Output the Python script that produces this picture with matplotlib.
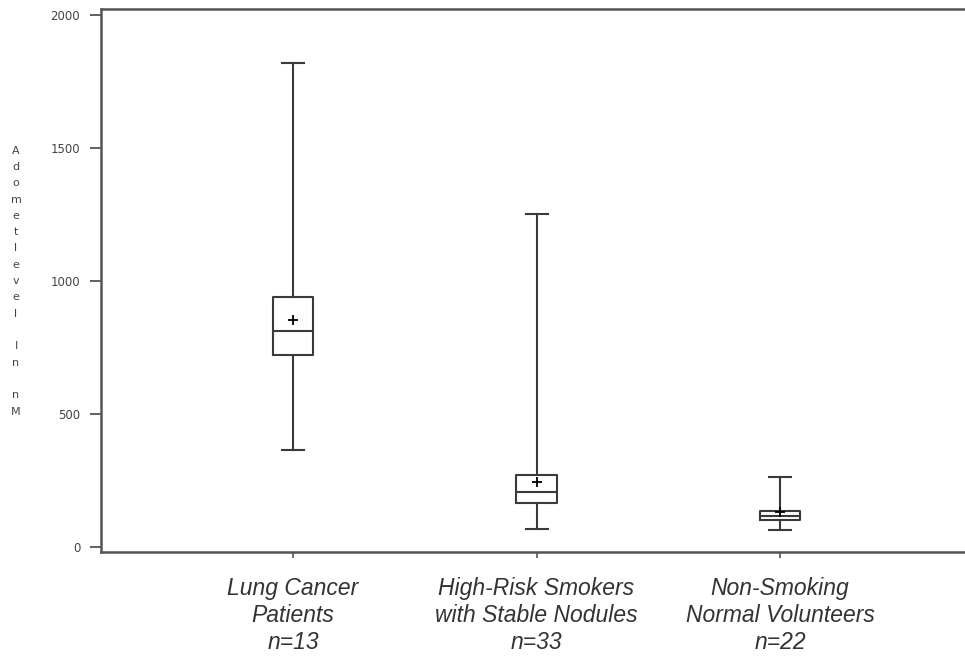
import matplotlib
matplotlib.use("Agg")
from matplotlib import pyplot as plt

groups = ["Lung Cancer\nPatients\nn=13",
          "High-Risk Smokers\nwith Stable Nodules\nn=33",
          "Non-Smoking\nNormal Volunteers\nn=22"]
whislo = [365, 68, 62]
q1 = [722, 165, 101]
med = [812, 207, 117]
q3 = [940, 271, 135]
whishi = [1820, 1252, 263]
means = [853, 244, 130]
yticks = [0, 500, 1000, 1500, 2000]
ylabel = "Adometlevel In nM"

stats = []
for k in range(len(groups)):
    stats.append(dict(label=groups[k], whislo=whislo[k], q1=q1[k], med=med[k],
                      q3=q3[k], whishi=whishi[k], mean=means[k], fliers=[]))

fig = plt.figure(figsize=(9.65, 6.63), dpi=100)
ax = fig.add_axes([0.1047, 0.1674, 0.8953, 0.819])

lc = "#3a3a3a"
ax.bxp(stats, positions=[1, 2, 3], widths=0.165, capwidths=0.09, showmeans=True,
       boxprops=dict(color=lc, linewidth=1.5),
       whiskerprops=dict(color=lc, linewidth=1.5),
       capprops=dict(color=lc, linewidth=1.5),
       medianprops=dict(color=lc, linewidth=1.5),
       meanprops=dict(marker="+", markeredgecolor="black", markersize=7, markeredgewidth=1.3))

ax.set_xlim(0.211, 3.76)
ax.set_ylim(-19, 2023)
ax.spines["right"].set_visible(False)
for s in ["left", "bottom", "top"]:
    ax.spines[s].set_color("#555555")
    ax.spines[s].set_linewidth(1.8)

ax.set_yticks(yticks)
ax.set_yticklabels([str(v) for v in yticks], fontsize=8.5, color="#444444",
                   family="DejaVu Sans")
ax.tick_params(axis="y", length=8, width=1.3, color="#555555", pad=7)
ax.tick_params(axis="x", length=4, width=1.2, color="#555555", pad=14)
ax.set_xticks([1, 2, 3])
ax.set_xticklabels(groups, fontsize=16.5, style="italic", family="Liberation Sans",
                   color="#333333", linespacing=1.22)

fig.text(0.0166, 0.576, "\n".join(ylabel), ha="center", va="center", fontsize=8,
         color="#444444", family="DejaVu Sans", linespacing=1.79)

fig.savefig("out.png", dpi=100)
